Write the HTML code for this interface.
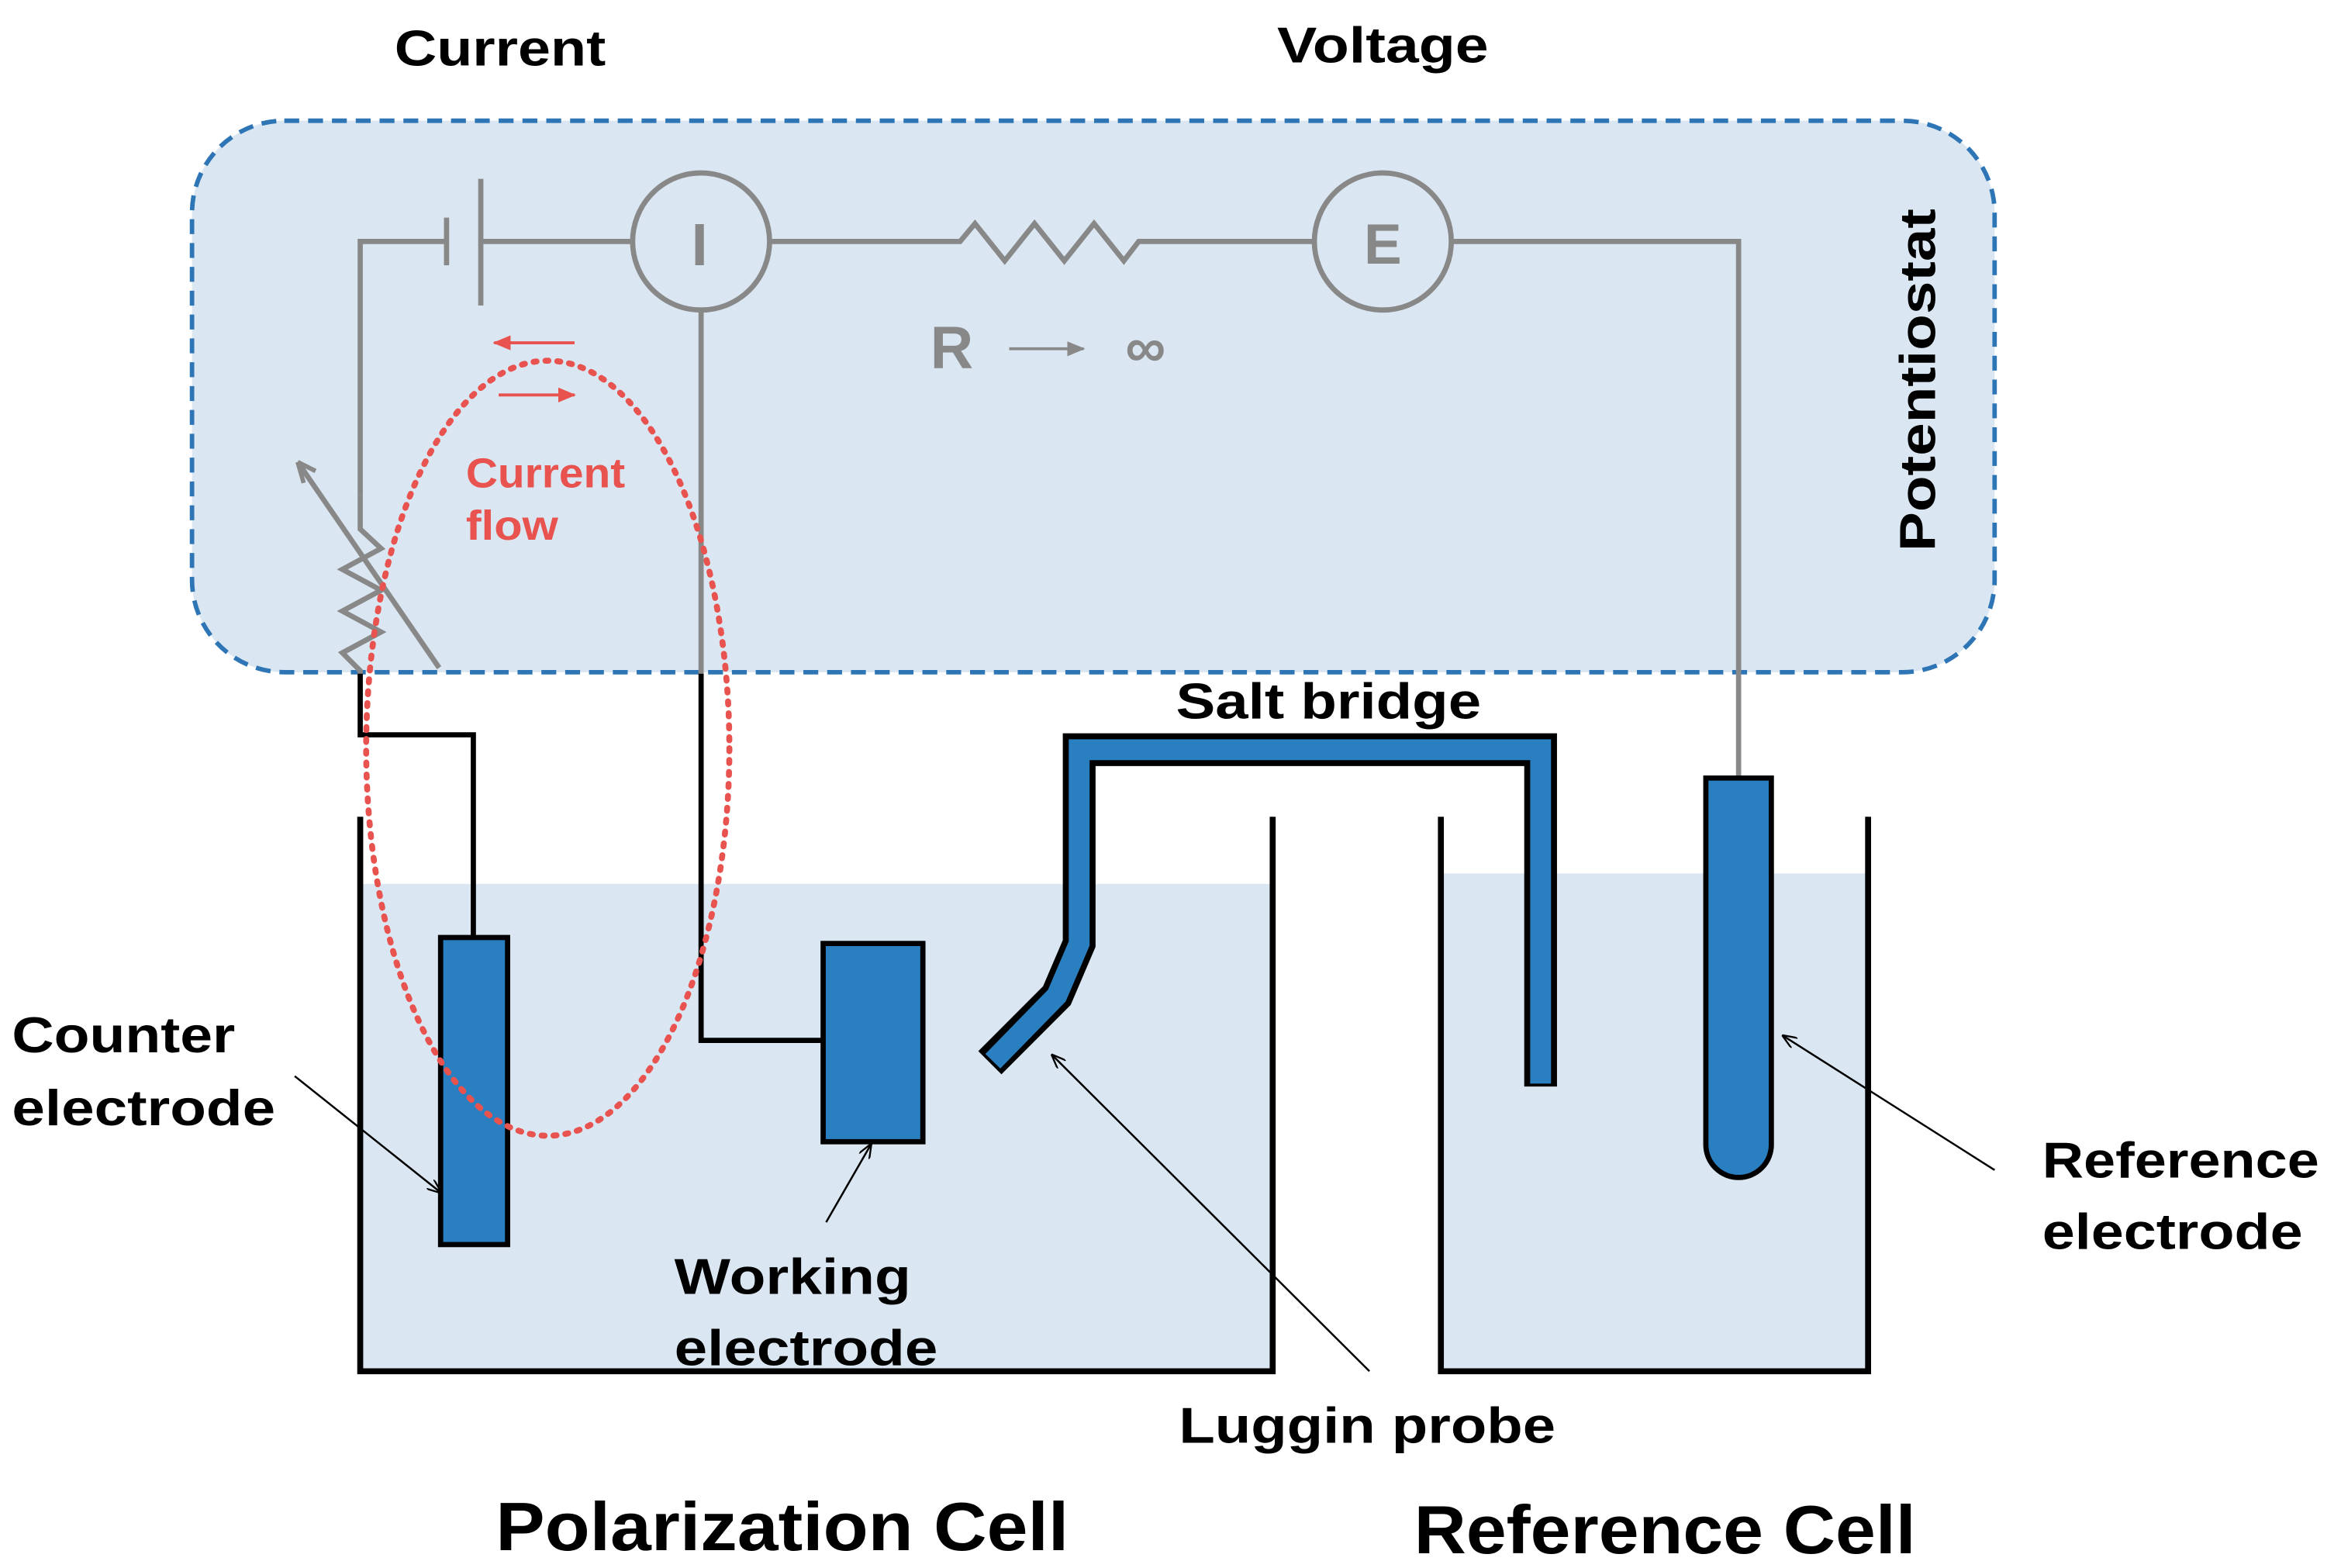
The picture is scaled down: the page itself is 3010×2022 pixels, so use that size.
<!DOCTYPE html>
<html><head><meta charset="utf-8"><style>
html,body{margin:0;padding:0;background:#fff;}
svg{display:block;}
text{font-family:"Liberation Sans","Noto Sans CJK KR",sans-serif;font-weight:bold;}
</style></head><body>
<svg width="3010" height="2022" viewBox="0 0 1568 1052" preserveAspectRatio="none" xmlns="http://www.w3.org/2000/svg">
<defs>
<marker id="ah" markerWidth="10" markerHeight="8" refX="9" refY="4" orient="auto" markerUnits="userSpaceOnUse"><path d="M0,0 L10,4 L0,8" fill="none" stroke="#000" stroke-width="1.2"/></marker>
<marker id="ar" markerWidth="12" markerHeight="10" refX="11" refY="5" orient="auto" markerUnits="userSpaceOnUse"><path d="M0,0 L12,5 L0,10 Z" fill="#e8534f"/></marker>
<marker id="ak" markerWidth="12" markerHeight="10" refX="11" refY="5" orient="auto" markerUnits="userSpaceOnUse"><path d="M0,0 L12,5 L0,10 Z" fill="#888"/></marker>
</defs>
<rect x="129" y="81" width="1211" height="370" rx="62" fill="#dae6f1" stroke="#2e75b6" stroke-width="3" stroke-dasharray="10,6"/>
<text x="265" y="44" font-size="34" fill="#000" textLength="142" lengthAdjust="spacingAndGlyphs">Current</text>
<text x="858" y="42" font-size="34" fill="#000" textLength="142" lengthAdjust="spacingAndGlyphs">Voltage</text>
<text transform="translate(1300,255) rotate(-90)" font-size="34" text-anchor="middle" fill="#000" textLength="230" lengthAdjust="spacingAndGlyphs">Potentiostat</text>
<g stroke="#888" stroke-width="3.5" fill="none">
<polyline points="242,332 242,162 300,162"/>
<line x1="300" y1="146" x2="300" y2="178"/>
<line x1="323" y1="120" x2="323" y2="205"/>
<line x1="323" y1="162" x2="425" y2="162"/>
<circle cx="471" cy="162" r="46"/>
<polyline points="517,162 645,162 655,150 675,175 695,150 715,175 735,150 755,175 765,162 882,162"/>
<circle cx="929" cy="162" r="46"/>
<polyline points="975,162 1168,162 1168,522"/>
<line x1="471" y1="208" x2="471" y2="452"/>
<polyline points="242,332 242,355 256,368 230,382 256,396 230,410 256,424 230,438 242,450 242,454"/>
<line x1="295" y1="448" x2="200" y2="310"/>
</g>
<path d="M200,310 l4,14 M200,310 l12,6" stroke="#888" stroke-width="3" fill="none"/>
<text x="470" y="178" font-size="40" fill="#888" text-anchor="middle" font-weight="normal">I</text>
<text x="929" y="177" font-size="38" fill="#888" text-anchor="middle">E</text>
<text x="625" y="247" font-size="40" fill="#888">R</text>
<line x1="678" y1="234" x2="728" y2="234" stroke="#888" stroke-width="2" marker-end="url(#ak)"/>
<text x="756" y="246" font-size="38" fill="#888">∞</text>
<rect x="242" y="593" width="613" height="327" fill="#dae6f1"/>
<rect x="968" y="586" width="287" height="334" fill="#dae6f1"/>
<polyline points="242,548 242,920 855,920 855,548" fill="none" stroke="#000" stroke-width="4"/>
<polyline points="968,548 968,920 1255,920 1255,548" fill="none" stroke="#000" stroke-width="4"/>
<polyline points="242,452 242,493 318,493 318,630" fill="none" stroke="#000" stroke-width="3.5"/>
<polyline points="471,452 471,698 553,698" fill="none" stroke="#000" stroke-width="3.5"/>
<rect x="296" y="629" width="45" height="206" fill="#2a7fc1" stroke="#000" stroke-width="3.5"/>
<rect x="553" y="633" width="67" height="133" fill="#2a7fc1" stroke="#000" stroke-width="3.5"/>
<path d="M1146,522 L1190,522 L1190,768 A22,22 0 0 1 1146,768 Z" fill="#2a7fc1" stroke="#000" stroke-width="3.5"/>
<path d="M1035,729 L1035,503 L725,503 L725,633 L710,668 L665,713" fill="none" stroke="#000" stroke-width="22" stroke-linejoin="miter"/>
<path d="M1035,727 L1035,503 L725,503 L725,633 L710,668 L667,712" fill="none" stroke="#2a7fc1" stroke-width="14" stroke-linejoin="miter"/>
<ellipse cx="368" cy="502" rx="122" ry="260" fill="none" stroke="#e8534f" stroke-width="4" stroke-dasharray="2,6" stroke-linecap="round"/>
<line x1="386" y1="230" x2="332" y2="230" stroke="#e8534f" stroke-width="2" marker-end="url(#ar)"/>
<line x1="335" y1="265" x2="386" y2="265" stroke="#e8534f" stroke-width="2" marker-end="url(#ar)"/>
<text x="313" y="327" font-size="28" fill="#e8534f" font-weight="normal" textLength="107" lengthAdjust="spacingAndGlyphs">Current</text>
<text x="313" y="362" font-size="28" fill="#e8534f" font-weight="normal" textLength="62" lengthAdjust="spacingAndGlyphs">flow</text>
<g stroke="#000" stroke-width="1.3">
<line x1="198" y1="722" x2="296" y2="800" marker-end="url(#ah)"/>
<line x1="555" y1="820" x2="585" y2="768" marker-end="url(#ah)"/>
<line x1="920" y1="920" x2="707" y2="708" marker-end="url(#ah)"/>
<line x1="1340" y1="785" x2="1198" y2="695" marker-end="url(#ah)"/>
</g>
<g font-size="34" fill="#000">
<text x="790" y="482" textLength="205" lengthAdjust="spacingAndGlyphs">Salt bridge</text>
<text x="8" y="706" textLength="150" lengthAdjust="spacingAndGlyphs">Counter</text>
<text x="8" y="755" textLength="177" lengthAdjust="spacingAndGlyphs">electrode</text>
<text x="453" y="868" textLength="159" lengthAdjust="spacingAndGlyphs">Working</text>
<text x="453" y="916" textLength="177" lengthAdjust="spacingAndGlyphs">electrode</text>
<text x="792" y="968" textLength="253" lengthAdjust="spacingAndGlyphs">Luggin probe</text>
<text x="1372" y="790" textLength="186" lengthAdjust="spacingAndGlyphs">Reference</text>
<text x="1372" y="838" textLength="175" lengthAdjust="spacingAndGlyphs">electrode</text>
</g>
<text x="333" y="1040" font-size="46" fill="#000" textLength="385" lengthAdjust="spacingAndGlyphs">Polarization Cell</text>
<text x="950" y="1042" font-size="46" fill="#000" textLength="337" lengthAdjust="spacingAndGlyphs">Reference Cell</text>
</svg>
</body></html>
